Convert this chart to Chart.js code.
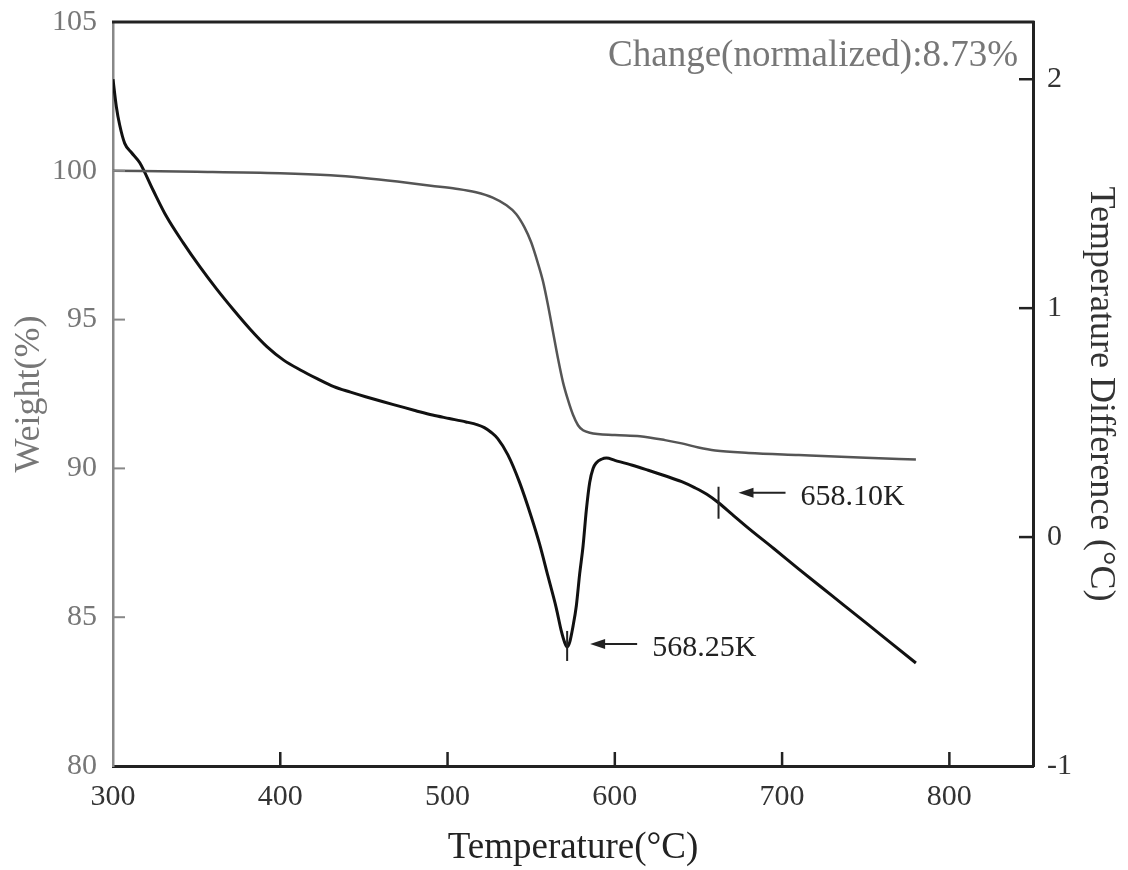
<!DOCTYPE html>
<html><head><meta charset="utf-8">
<script src="https://cdn.jsdelivr.net/npm/chart.js@4"></script>
<style>html,body{margin:0;padding:0;background:#fff}#wrap{width:1128px;height:870px}</style>
</head><body><div id="wrap"><canvas id="c" width="1128" height="870"></canvas></div>
<script>
// TG curve (weight %, left axis)
const tgTemp   = [300,350,400,430,450,470,490,505,517,527,535,541,546,550,554,557,560,563,566,569,572,575,578,581,585,600,615,630,640,650,660,680,710,750,780];
const tgWeight = [100.0,99.97,99.92,99.85,99.76,99.64,99.5,99.4,99.28,99.1,98.85,98.55,98.1,97.6,96.9,96.3,95.5,94.6,93.7,92.9,92.3,91.8,91.45,91.28,91.2,91.12,91.08,90.95,90.84,90.7,90.6,90.52,90.45,90.36,90.3];
// DSC curve (temperature difference, right axis)
const dscTemp = [300,302,304,307,311,316,324,332,342,352,362,372,382,392,402,412,422,432,442,451,461,471,481,491,501,511,518,522,526,530,536,543,550,555,560,565,568,570,571.5,573,575,577,579,581,583,585,587,589,592,595,600,610,620,630,640,648,655,662,670,680,695,710,730,750,765,780];
const dscDiff = [2.0,1.88,1.8,1.72,1.68,1.635,1.515,1.40,1.285,1.18,1.083,0.993,0.908,0.832,0.773,0.73,0.692,0.657,0.633,0.613,0.592,0.572,0.552,0.533,0.518,0.503,0.49,0.478,0.458,0.43,0.36,0.24,0.09,-0.03,-0.17,-0.31,-0.41,-0.46,-0.48,-0.46,-0.39,-0.3,-0.16,-0.04,0.12,0.24,0.3,0.325,0.34,0.345,0.335,0.315,0.292,0.268,0.242,0.215,0.187,0.15,0.1,0.038,-0.05,-0.14,-0.257,-0.374,-0.462,-0.55];
const xTicks = [300,400,500,600,700,800];
const weightTicks = [80,85,90,95,100,105];
const diffTicks = [-1,0,1,2];
const peakTemps = [571.5, 662];
const peakTexts = ['568.25K', '658.10K'];
const changeText = 'Change(normalized):8.73%';

const FONT = "'Liberation Serif', 'Times New Roman', serif";

const decor = {
  id: 'decor',
  afterDraw(chart) {
    const ctx = chart.ctx, a = chart.chartArea;
    const xs = chart.scales.x, yl = chart.scales.y, yr = chart.scales.y1;
    ctx.save();
    // top border
    ctx.strokeStyle = '#222'; ctx.lineWidth = 3;
    ctx.beginPath(); ctx.moveTo(a.left - 1, a.top); ctx.lineTo(a.right + 1.5, a.top); ctx.stroke();
    // inward ticks x
    ctx.lineWidth = 2.5; ctx.strokeStyle = '#222';
    xTicks.forEach(v => { if (v === 300) return; const p = xs.getPixelForValue(v);
      ctx.beginPath(); ctx.moveTo(p, a.bottom); ctx.lineTo(p, a.bottom - 14); ctx.stroke(); });
    // right ticks
    diffTicks.forEach(v => { if (v === -1) return; const p = yr.getPixelForValue(v);
      ctx.beginPath(); ctx.moveTo(a.right, p); ctx.lineTo(a.right - 14, p); ctx.stroke(); });
    // left ticks
    ctx.strokeStyle = '#888'; ctx.lineWidth = 2;
    weightTicks.forEach(v => { if (v === 80 || v === 105) return; const p = yl.getPixelForValue(v);
      ctx.beginPath(); ctx.moveTo(a.left, p); ctx.lineTo(a.left + 12, p); ctx.stroke(); });
    // peak annotations
    const cfg = [{up:16, down:14, dy:-3, gap:23, tdy:1}, {up:16, down:16, dy:-10, gap:20, tdy:-6}];
    peakTemps.forEach((t, k) => {
      const i = dscTemp.indexOf(t);
      const px = xs.getPixelForValue(t), py = yr.getPixelForValue(dscDiff[i]);
      const c = cfg[k];
      ctx.strokeStyle = '#222'; ctx.fillStyle = '#222'; ctx.lineWidth = 2;
      ctx.beginPath(); ctx.moveTo(px, py - c.up); ctx.lineTo(px, py + c.down); ctx.stroke();
      const ay = py + c.dy, tip = px + c.gap, end = tip + 47;
      ctx.beginPath(); ctx.moveTo(tip + 10, ay); ctx.lineTo(end, ay); ctx.stroke();
      ctx.beginPath(); ctx.moveTo(tip, ay); ctx.lineTo(tip + 15, ay - 5); ctx.lineTo(tip + 15, ay + 5); ctx.closePath(); ctx.fill();
      ctx.font = '30px ' + FONT; ctx.textAlign = 'left'; ctx.textBaseline = 'middle';
      ctx.fillText(peakTexts[k], end + 15, py + c.tdy);
    });
    // change text
    ctx.fillStyle = '#777'; ctx.font = '37px ' + FONT; ctx.textAlign = 'right'; ctx.textBaseline = 'middle';
    ctx.fillText(changeText, a.right - 15, a.top + 34);
    ctx.restore();
  }
};

const noPad = s => { s.paddingTop = 0; s.paddingBottom = 0; s.paddingLeft = 0; s.paddingRight = 0; };

new Chart(document.getElementById('c'), {
  type: 'line',
  data: {
    datasets: [
      { label: 'Weight', data: tgTemp.map((t, i) => ({x: t, y: tgWeight[i]})), yAxisID: 'y',
        borderColor: '#555', borderWidth: 2.5, pointRadius: 0, cubicInterpolationMode: 'monotone', fill: false },
      { label: 'DSC', data: dscTemp.map((t, i) => ({x: t, y: dscDiff[i]})), yAxisID: 'y1',
        borderColor: '#111', borderWidth: 3, pointRadius: 0, cubicInterpolationMode: 'monotone', fill: false }
    ]
  },
  options: {
    responsive: false, animation: false, devicePixelRatio: 1,
    layout: { padding: { top: 22, left: 0, right: 0, bottom: 0 } },
    plugins: { legend: { display: false }, tooltip: { enabled: false } },
    scales: {
      x: {
        type: 'linear', position: 'bottom', min: 300, max: 850,
        afterBuildTicks: s => { s.ticks = xTicks.map(v => ({value: v})); },
        afterFit: s => { s.height = 104; noPad(s); },
        grid: { display: true, drawOnChartArea: false, drawTicks: false },
        border: { display: true, color: '#222', width: 3 },
        ticks: { autoSkip: false, maxRotation: 0, padding: 13, color: '#333', font: { family: FONT, size: 30 } },
        title: { display: true, text: 'Temperature(°C)', color: '#222', font: { family: FONT, size: 37 }, padding: { top: 17, bottom: 0 } }
      },
      y: {
        type: 'linear', position: 'left', min: 80, max: 105,
        afterBuildTicks: s => { s.ticks = weightTicks.map(v => ({value: v})); },
        afterFit: s => { s.width = 113; noPad(s); },
        grid: { display: true, drawOnChartArea: false, drawTicks: false },
        border: { display: true, color: '#888', width: 2.5 },
        ticks: { autoSkip: false, padding: 16, color: '#777', font: { family: FONT, size: 30 } },
        title: { display: true, text: 'Weight(%)', color: '#777', font: { family: FONT, size: 36 }, padding: { top: 8, bottom: 0 } }
      },
      y1: {
        type: 'linear', position: 'right', min: -1, max: 2.25,
        afterBuildTicks: s => { s.ticks = diffTicks.map(v => ({value: v})); },
        afterFit: s => { s.width = 95; noPad(s); },
        grid: { display: true, drawOnChartArea: false, drawTicks: false },
        border: { display: true, color: '#222', width: 3 },
        ticks: { autoSkip: false, padding: 14, color: '#333', font: { family: FONT, size: 30 } },
        title: { display: true, text: 'Temperature Difference (°C)', color: '#333', font: { family: FONT, size: 36 }, padding: { top: 6, bottom: 0 } }
      }
    }
  },
  plugins: [decor]
});
</script></body></html>
